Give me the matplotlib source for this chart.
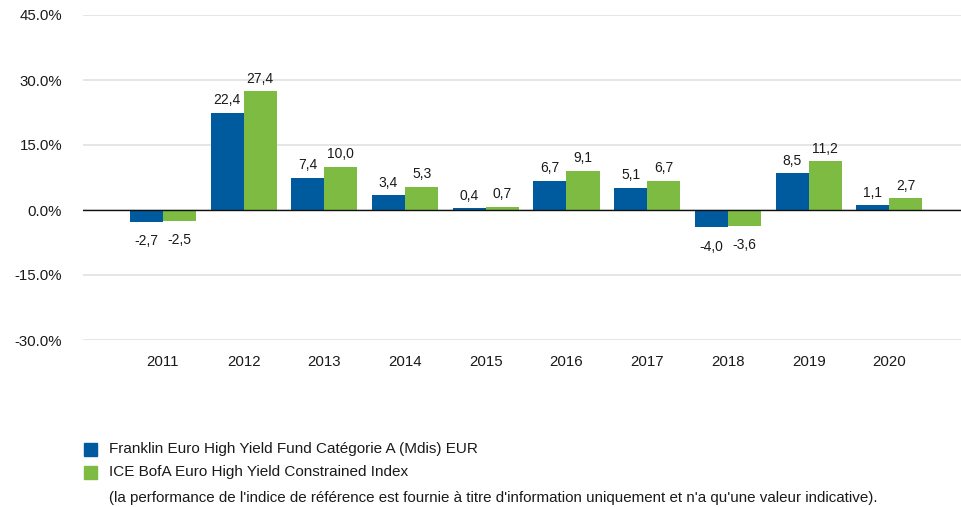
import matplotlib
matplotlib.use("Agg")
import matplotlib.pyplot as plt
import numpy as np
from matplotlib.ticker import FuncFormatter

years = ["2011", "2012", "2013", "2014", "2015", "2016", "2017", "2018", "2019", "2020"]
fund = [-2.7, 22.4, 7.4, 3.4, 0.4, 6.7, 5.1, -4.0, 8.5, 1.1]
index = [-2.5, 27.4, 10.0, 5.3, 0.7, 9.1, 6.7, -3.6, 11.2, 2.7]
fund_name = "Franklin Euro High Yield Fund Catégorie A (Mdis) EUR"
index_name = "ICE BofA Euro High Yield Constrained Index"
note = "(la performance de l'indice de référence est fournie à titre d'information uniquement et n'a qu'une valeur indicative)."
yticks = [-30, -15, 0, 15, 30, 45]

plt.rcParams['font.family'] = ['Liberation Sans', 'DejaVu Sans']

BLUE = "#005A9E"
GREEN = "#7DBB42"
TXT = "#1a1a1a"

fig = plt.figure(figsize=(9.62, 5.07), dpi=100)
ax = fig.add_axes([83/962, 167/507, 1 - 83/962, 325/507])

x = np.arange(len(years))
w = 0.41
b1 = ax.bar(x - w/2, fund, w, color=BLUE, zorder=3)
b2 = ax.bar(x + w/2, index, w, color=GREEN, zorder=3)

for bars, vals in ((b1, fund), (b2, index)):
    for r, v in zip(bars, vals):
        lab = f"{v:.1f}".replace(".", ",")
        cx = r.get_x() + r.get_width()/2
        if v >= 0:
            ax.annotate(lab, (cx, v), xytext=(0, 4), textcoords="offset points",
                        ha="center", va="bottom", fontsize=10, color=TXT)
        else:
            ax.annotate(lab, (cx, v), xytext=(0, -9), textcoords="offset points",
                        ha="center", va="top", fontsize=10, color=TXT)

ax.set_xlim(-0.99, 9.9)
ax.set_ylim(-30, 45)
ax.set_yticks(yticks)
ax.yaxis.set_major_formatter(FuncFormatter(lambda v, p: f"{v:.1f}%"))
ax.set_xticks(x)
ax.set_xticklabels(years)
ax.tick_params(axis="both", length=0, labelsize=10.8, colors=TXT)
ax.tick_params(axis="y", pad=15)
ax.tick_params(axis="x", pad=11)
for s in ax.spines.values():
    s.set_visible(False)
ax.yaxis.grid(True, color="#e4e4e4", linewidth=1.3, zorder=0)
ax.axhline(0, color="#111111", linewidth=1.0, zorder=4)

# legend
fig.patches.append(plt.Rectangle((84/962, 1 - 456/507), 13/962, 13/507, transform=fig.transFigure,
                                 color=BLUE, figure=fig))
fig.patches.append(plt.Rectangle((84/962, 1 - 479/507), 13/962, 13/507, transform=fig.transFigure,
                                 color=GREEN, figure=fig))
fig.text(109/962, 1 - 449/507, fund_name, fontsize=11, va="center", ha="left", color=TXT)
fig.text(109/962, 1 - 472/507, index_name, fontsize=11, va="center", ha="left", color=TXT)
fig.text(109/962, 1 - 498/507, note, fontsize=10.9, va="center", ha="left", color=TXT)

fig.savefig("out.png", dpi=100)
